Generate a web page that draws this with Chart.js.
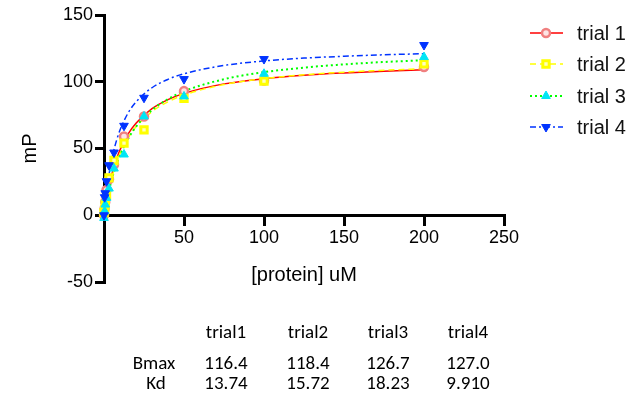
<!DOCTYPE html>
<html lang="en">
<head>
<meta charset="UTF-8" />
<title>Binding curves</title>
<script src="https://cdn.jsdelivr.net/npm/chart.js@4.4.0/dist/chart.umd.min.js"></script>
<style>
  body { margin: 0; background: #fff; }
  #wrap { position: relative; width: 630px; height: 398px; }
  #chart { position: absolute; left: 0; top: 0; }
  .cell { position: absolute; font-family: Carlito, Lato, "Open Sans", sans-serif; font-size: 19px; color: #000;
          transform: translate(-50%, -50%); white-space: nowrap; }
</style>
</head>
<body>
<div id="wrap">
  <canvas id="chart" width="630" height="398"></canvas>
</div>

<script>
// measured points
const conc   = [0, 0.39, 0.78, 1.56, 3.125, 6.25, 12.5, 25, 50, 100, 200];
const trial1 = [0, 5, 10, 19, 27, 38, 59, 74, 93, 101, 111];
const trial2 = [2, 4, 8, 15, 28, 41, 54, 64, 87.5, 100.5, 113.5];
const trial3 = [-2, 3, 8, 13, 20, 35, 45.5, 74, 89, 106, 118.5];
const trial4 = [0, 13.5, 16.5, 25.5, 37.5, 47, 67, 88, 102, 117, 127.5];

// fitted curves
const fitX = [0, 1, 2, 4, 6, 8, 10, 15, 20, 30, 40, 50, 75, 100, 125, 150, 175, 200];
const fit1 = [0, 7.9, 14.8, 26.2, 35.4, 42.8, 49.0, 60.8, 69.0, 79.8, 86.6, 91.3, 98.4, 102.3, 104.9, 106.6, 107.9, 108.9];
const fit2 = [0, 7.1, 13.4, 24.0, 32.7, 39.9, 46.0, 57.8, 66.3, 77.7, 85.0, 90.1, 97.9, 102.3, 105.2, 107.2, 108.6, 109.8];
const fit3 = [0, 6.6, 12.5, 22.8, 31.4, 38.6, 44.9, 57.2, 66.3, 78.8, 87.0, 92.9, 101.9, 107.2, 110.6, 113.0, 114.8, 116.1];
const fit4 = [0, 11.6, 21.3, 36.5, 47.9, 56.7, 63.8, 76.5, 84.9, 95.5, 101.8, 106.0, 112.2, 115.6, 117.7, 119.1, 120.2, 121.0];

const seriesNames = ['trial 1', 'trial 2', 'trial 3', 'trial 4'];

// table under the chart
const tableCols = ['trial1', 'trial2', 'trial3', 'trial4'];
const tableRows = ['Bmax', 'Kd'];
const bmax = ['116.4', '118.4', '126.7', '127.0'];
const kd   = ['13.74', '15.72', '18.23', '9.910'];

const xTicks = [0, 50, 100, 150, 200, 250];
const yTicks = [-50, 0, 50, 100, 150];

const pts = [trial1, trial2, trial3, trial4];
const fits = [fit1, fit2, fit3, fit4];

const lineStyle = [
  { color: '#ff0000', dash: [], width: 1.5 },
  { color: '#ffff00', dash: [6, 4], width: 1.5 },
  { color: '#00ff00', dash: [2, 3], width: 2 },
  { color: '#0033ff', dash: [6, 3, 2, 3], width: 1.5 }
];
const markStyle = [
  { pointStyle: 'circle', radius: 4, border: '#f08080', bg: '#fde4e4', bw: 2.5, rot: 0 },
  { pointStyle: 'rect', radius: 4.5, border: '#ffff00', bg: '#ffffc0', bw: 3, rot: 0 },
  { pointStyle: 'triangle', radius: 5, border: '#00e5f5', bg: '#00e5f5', bw: 1, rot: 0 },
  { pointStyle: 'triangle', radius: 5, border: '#0033ff', bg: '#0033ff', bw: 1, rot: 180 }
];

const datasets = [];
for (let i = 0; i < 4; i++) {
  datasets.push({
    label: seriesNames[i] + ' fit',
    data: fitX.map((x, j) => ({ x: x, y: fits[i][j] })),
    showLine: true,
    pointRadius: 0,
    borderColor: lineStyle[i].color,
    borderDash: lineStyle[i].dash,
    borderWidth: lineStyle[i].width,
    cubicInterpolationMode: 'monotone',
    fill: false,
    order: 4 + (3 - i)
  });
}
for (let i = 0; i < 4; i++) {
  const m = markStyle[i];
  datasets.push({
    label: seriesNames[i],
    data: conc.map((x, j) => ({ x: x, y: pts[i][j] })),
    showLine: false,
    pointStyle: m.pointStyle,
    pointRadius: m.radius,
    pointRotation: m.rot,
    pointBorderColor: m.border,
    pointBackgroundColor: m.bg,
    pointBorderWidth: m.bw,
    clip: false,
    order: 3 - i
  });
}

const legendPlugin = {
  id: 'sideLegend',
  afterDraw(chart) {
    const ctx = chart.ctx;
    const ys = [33, 64, 96, 127];
    ctx.save();
    for (let i = 0; i < 4; i++) {
      const y = ys[i];
      ctx.beginPath();
      ctx.strokeStyle = lineStyle[i].color;
      ctx.lineWidth = lineStyle[i].width;
      ctx.setLineDash(lineStyle[i].dash);
      ctx.moveTo(530, y);
      ctx.lineTo(563, y);
      ctx.stroke();
      ctx.setLineDash([]);
      const m = markStyle[i];
      ctx.fillStyle = m.bg;
      ctx.strokeStyle = m.border;
      ctx.lineWidth = m.bw;
      Chart.helpers.drawPoint(ctx, { pointStyle: m.pointStyle, radius: m.radius, rotation: m.rot, borderWidth: m.bw }, 546, y);
      ctx.fillStyle = '#111';
      ctx.font = '20px "Liberation Sans", Arial, sans-serif';
      ctx.textBaseline = 'middle';
      ctx.fillText(seriesNames[i], 577, y + 1);
    }
    ctx.restore();
  }
};

const axisFont = { family: '"Liberation Sans", Arial, sans-serif', size: 18 };

new Chart(document.getElementById('chart'), {
  type: 'scatter',
  data: { datasets: datasets },
  options: {
    responsive: false,
    animation: false,
    layout: { padding: { left: 10, right: 126, top: 15, bottom: 116 } },
    plugins: { legend: { display: false }, tooltip: { enabled: false } },
    scales: {
      x: {
        type: 'linear',
        position: { y: 0 },
        min: 0, max: 250,
        afterBuildTicks: s => { s.ticks = xTicks.map(v => ({ value: v })); },
        afterFit: s => { s.height = 72; },
        ticks: { color: '#000', font: axisFont, padding: 3, maxRotation: 0,
                 callback: v => v === 0 ? '' : v },
        grid: { drawOnChartArea: false, drawTicks: true, tickLength: 9, color: '#000', lineWidth: 3 },
        border: { color: '#000', width: 3 },
        title: { display: true, text: '[protein] uM', color: '#000',
                 font: { family: '"Liberation Sans", Arial, sans-serif', size: 20 }, padding: { top: 0, bottom: 0 } }
      },
      y: {
        type: 'linear',
        min: -50, max: 150,
        afterBuildTicks: s => { s.ticks = yTicks.map(v => ({ value: v })); },
        afterFit: s => { s.width = 94; },
        ticks: { color: '#000', font: axisFont, padding: 2 },
        grid: { drawOnChartArea: false, drawTicks: true, tickLength: 9, color: '#000', lineWidth: 3 },
        border: { color: '#000', width: 3 },
        title: { display: true, text: 'mP', color: '#000',
                 font: { family: '"Liberation Sans", Arial, sans-serif', size: 20 }, padding: { top: 8, bottom: 0 } }
      }
    }
  },
  plugins: [legendPlugin]
});

// table
const wrap = document.getElementById('wrap');
const colX = [226, 308, 388, 468];
const rowY = [331, 362, 382];
function cell(text, x, y) {
  const d = document.createElement('div');
  d.className = 'cell';
  d.textContent = text;
  d.style.left = x + 'px';
  d.style.top = y + 'px';
  wrap.appendChild(d);
}
tableCols.forEach((t, i) => cell(t, colX[i], rowY[0]));
cell(tableRows[0], 154, rowY[1]);
cell(tableRows[1], 156, rowY[2]);
bmax.forEach((t, i) => cell(t, colX[i], rowY[1]));
kd.forEach((t, i) => cell(t, colX[i], rowY[2]));
</script>
</body>
</html>
